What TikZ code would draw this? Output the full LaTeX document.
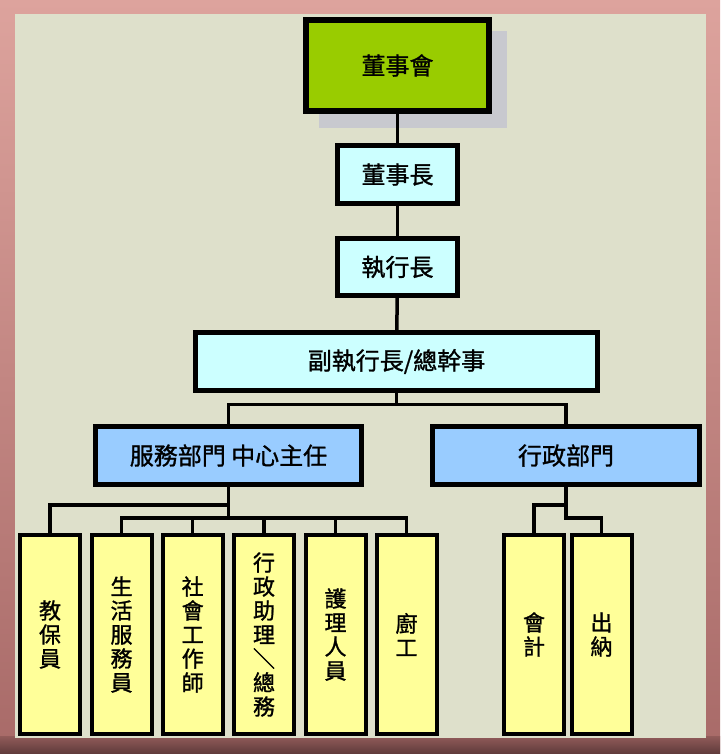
\documentclass[tikz,border=0pt]{standalone}
\usepackage{fontspec}
\newfontfamily\cjk[FakeBold=1.2]{Noto Sans CJK TC}
\definecolor{panel}{HTML}{DEE0CB}
\definecolor{frametop}{HTML}{DDA39D}
\definecolor{framebottom}{HTML}{A86A68}
\definecolor{framedark}{HTML}{5E3A3A}
\definecolor{boardgreen}{HTML}{99CC00}
\definecolor{headcyan}{HTML}{CCFFFF}
\definecolor{deptblue}{HTML}{99CCFF}
\definecolor{staffyellow}{HTML}{FFFF99}
\definecolor{shadowgray}{HTML}{C8C9CF}

\begin{document}
\begin{tikzpicture}[x=1pt,y=-1pt,
  box/.style={draw=black,rectangle,inner sep=0pt,outer sep=0pt,
    font=\cjk\fontsize{24}{28}\selectfont},
  headbox/.style={box,fill=headcyan,line width=5pt,minimum height=58pt},
  deptbox/.style={box,fill=deptblue,line width=5pt,minimum width=266pt,minimum height=58pt},
  staffbox/.style={box,fill=staffyellow,line width=4pt,minimum width=60pt,minimum height=199pt,
    align=center,font=\cjk\fontsize{22}{24}\selectfont},
  link/.style={line width=3.5pt}]
  \useasboundingbox (0,0) rectangle (720,754);
  \shade[top color=frametop,bottom color=framebottom] (0,0) rectangle (720,754);
  \shade[top color=framebottom!70!framedark,bottom color=framedark] (0,736) rectangle (720,754);
  \fill[panel] (15,14) rectangle (706,738);
  \fill[shadowgray] (319,31) rectangle (507,128);
  \node[box,fill=boardgreen,line width=6pt,minimum width=183pt,minimum height=91pt] (board) at (397.5,65.5) {董事會};
  \node[headbox,minimum width=120pt] (chair) at (397.5,174.5) {董事長};
  \node[headbox,minimum width=120pt,minimum height=57pt] (ceo) at (397.5,267) {執行長};
  \node[headbox,minimum width=402pt] (vice) at (396.5,361.5) {副執行長/總幹事};
  \node[deptbox] (service) at (228.5,455.5) {服務部門\ 中心主任};
  \node[deptbox,minimum width=267pt] (admin) at (566,455.5) {行政部門};
  \node[staffbox] (teacher) at (50,634.5) {教\\保\\員};
  \node[staffbox] (life) at (121.5,634.5) {生\\活\\服\\務\\員};
  \node[staffbox] (social) at (192.7,634.5) {社\\會\\工\\作\\師};
  \node[staffbox] (assist) at (264,634.5) {行\\政\\助\\理\\＼\\總\\務};
  \node[staffbox] (nurse) at (335.5,634.5) {護\\理\\人\\員};
  \node[staffbox] (cook) at (406.5,634.5) {廚\\工};
  \node[staffbox] (account) at (534,634.5) {會\\計};
  \node[staffbox] (cashier) at (601.5,634.5) {出\\納};
  \draw[link] (board) -- (chair);
  \draw[link] (chair) -- (ceo);
  \draw[link] (ceo) -- (vice);
  \draw[link] (vice.south) -- ++(0,14) coordinate (split);
  \draw[link] (service.north) |- (split) -| (admin.north);
  \path (service.south) ++(0,20.5) coordinate (svcup);
  \path (service.south) ++(0,33.5) coordinate (svclow);
  \draw[link] (service.south) -- (svclow);
  \draw[link] (svcup) -| (teacher.north);
  \foreach \staff in {life,social,assist,nurse,cook}
    \draw[link] (svclow) -| (\staff.north);
  \path (admin.south) ++(0,20.5) coordinate (admup);
  \draw[link] (admin.south) -- ++(0,33.5) coordinate (admlow) -| (cashier.north);
  \draw[link] (admup) -| (account.north);
\end{tikzpicture}
\end{document}
